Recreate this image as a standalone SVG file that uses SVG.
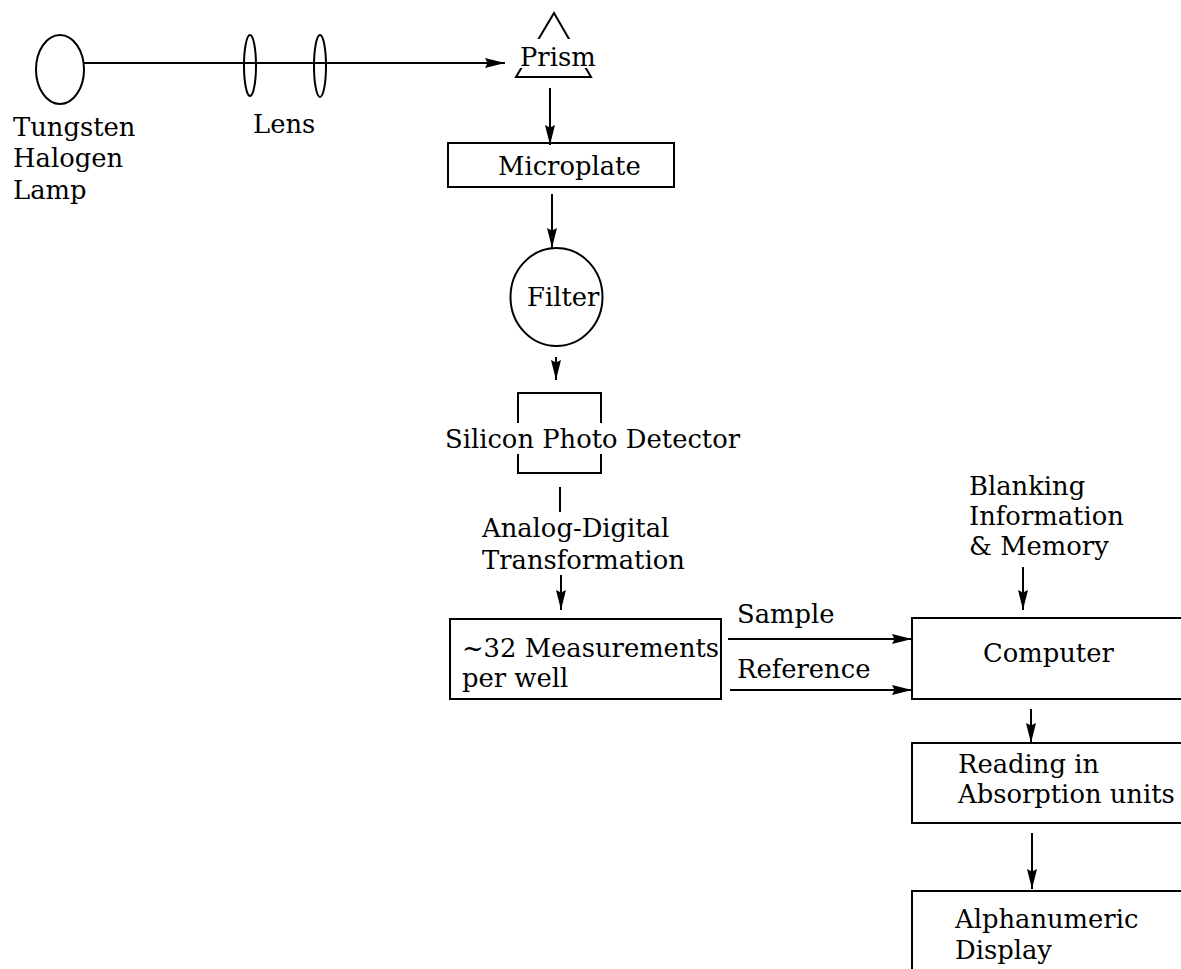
<svg xmlns="http://www.w3.org/2000/svg" width="1181" height="969" viewBox="0 0 1181 969">
<style>
.s{fill:none;stroke:#000;stroke-width:2}
.t{font-family:"DejaVu Serif",serif;font-size:25.8px;fill:#000}
.c{stroke:#000;stroke-width:2;fill:none}
</style>
<defs>
<marker id="ah" viewBox="0 0 20 10" refX="20" refY="5" markerWidth="20" markerHeight="10" markerUnits="userSpaceOnUse" orient="auto">
<path d="M0,0 L20,5 L0,10 L2.5,5 Z" fill="#000"/>
</marker>
</defs>
<rect width="1181" height="969" fill="#fff"/>
<g id="connectors">
<line class="c" x1="84" y1="63" x2="505" y2="63" marker-end="url(#ah)"/>
<line class="c" x1="550" y1="88" x2="550" y2="145" marker-end="url(#ah)"/>
<line class="c" x1="552" y1="194" x2="552" y2="248" marker-end="url(#ah)"/>
<line class="c" x1="556" y1="357" x2="556" y2="380" marker-end="url(#ah)"/>
<line class="c" x1="560" y1="487" x2="560" y2="512"/>
<line class="c" x1="561" y1="575" x2="561" y2="610" marker-end="url(#ah)"/>
<line class="c" x1="728" y1="639" x2="912" y2="639" marker-end="url(#ah)"/>
<line class="c" x1="730" y1="690" x2="912" y2="690" marker-end="url(#ah)"/>
<line class="c" x1="1023" y1="567" x2="1023" y2="610" marker-end="url(#ah)"/>
<line class="c" x1="1031" y1="709" x2="1031" y2="743" marker-end="url(#ah)"/>
<line class="c" x1="1032" y1="833" x2="1032" y2="889" marker-end="url(#ah)"/>
</g>
<g id="lamp">
<ellipse class="s" cx="60" cy="69.5" rx="24" ry="34.5"/>
<text class="t" x="13" y="136">Tungsten</text>
<text class="t" x="13" y="167">Halogen</text>
<text class="t" x="13" y="199">Lamp</text>
</g>
<g id="lens">
<ellipse class="s" cx="250" cy="65.5" rx="6" ry="30.5"/>
<ellipse class="s" cx="320" cy="66" rx="6" ry="31"/>
<text class="t" x="253" y="133">Lens</text>
</g>
<g id="prism">
<polygon class="s" points="554,13 516,77 591,77"/>
<rect x="508" y="39" width="96" height="29" fill="#fff"/>
<text class="t" x="520" y="66">Prism</text>
</g>
<g id="microplate">
<rect class="s" x="448" y="143" width="226" height="44"/>
<text class="t" x="498" y="175">Microplate</text>
</g>
<g id="filter">
<ellipse class="s" cx="556.5" cy="297" rx="46" ry="49"/>
<text class="t" x="527" y="306">Filter</text>
</g>
<g id="detector">
<rect class="s" x="518" y="393" width="83" height="80"/>
<rect x="510" y="423" width="100" height="31" fill="#fff"/>
<text class="t" x="445" y="448">Silicon Photo Detector</text>
</g>
<g id="adc">
<text class="t" x="482" y="537">Analog-Digital</text>
<text class="t" x="482" y="569">Transformation</text>
</g>
<g id="measurements">
<rect class="s" x="450" y="619" width="271" height="80"/>
<text class="t" x="462" y="657">~32 Measurements</text>
<text class="t" x="462" y="687">per well</text>
</g>
<g id="labels">
<text class="t" x="737" y="623">Sample</text>
<text class="t" x="737" y="678">Reference</text>
</g>
<g id="blanking">
<text class="t" x="969" y="495">Blanking</text>
<text class="t" x="969" y="525">Information</text>
<text class="t" x="969" y="555">&amp; Memory</text>
</g>
<g id="computer">
<rect class="s" x="912" y="618" width="280" height="81"/>
<text class="t" x="983" y="662">Computer</text>
</g>
<g id="reading">
<rect class="s" x="912" y="743" width="280" height="80"/>
<text class="t" x="958" y="773">Reading in</text>
<text class="t" x="958" y="803">Absorption units</text>
</g>
<g id="display">
<rect class="s" x="912" y="891" width="280" height="100"/>
<text class="t" x="955" y="928">Alphanumeric</text>
<text class="t" x="955" y="959">Display</text>
</g>
</svg>
